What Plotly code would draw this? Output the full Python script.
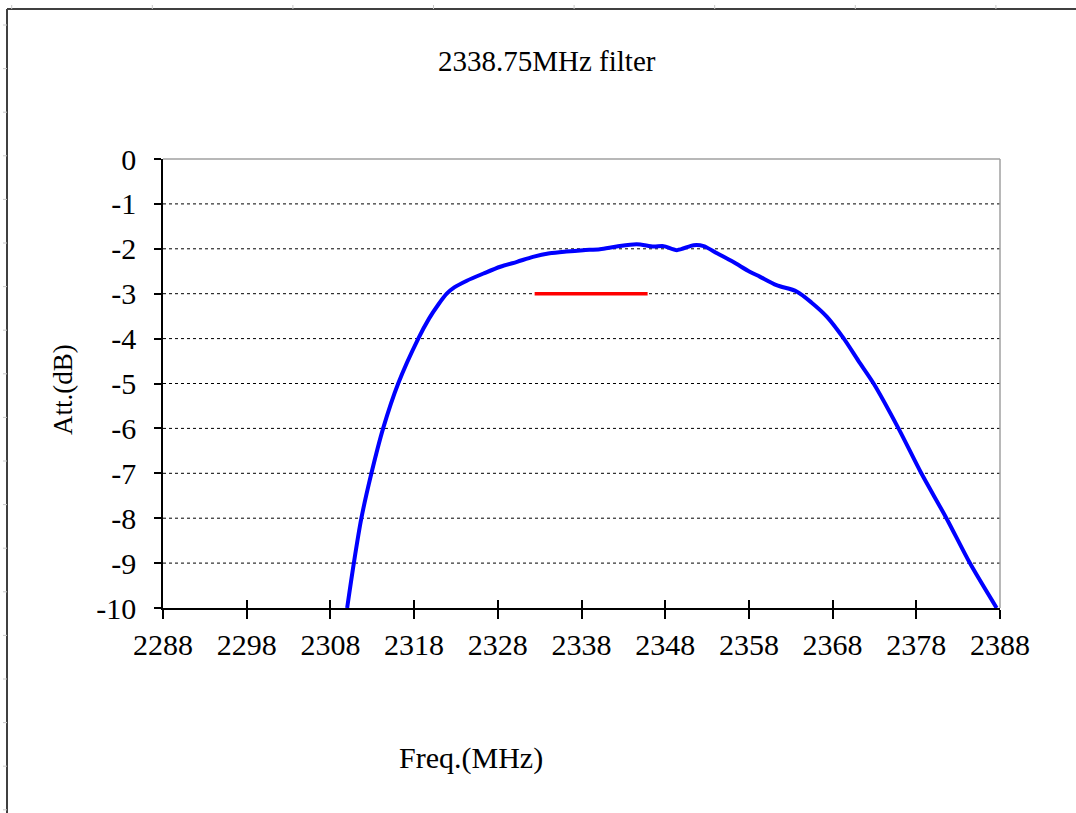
import plotly.graph_objects as go

# ---- data ----
freq = [2310.0, 2310.8, 2311.7, 2312.9, 2314.3, 2316.1, 2318.5, 2319.8, 2320.9,
        2321.9, 2322.8, 2324.3, 2326.3, 2328.3, 2330.3, 2332.2, 2334.2, 2336.2,
        2338.2, 2340.2, 2342.2, 2344.6, 2346.6, 2347.8, 2349.4, 2351.4, 2352.6,
        2354.2, 2356.1, 2358.1, 2359.3, 2361.3, 2363.7, 2365.5, 2367.3, 2369.3,
        2371.1, 2372.9, 2375.9, 2378.6, 2381.6, 2384.4, 2387.6]
att = [-10.0, -9.0, -8.0, -7.0, -6.0, -5.0, -4.0, -3.55, -3.24,
       -3.0, -2.86, -2.71, -2.55, -2.40, -2.29, -2.18, -2.10, -2.06,
       -2.03, -2.01, -1.95, -1.90, -1.95, -1.94, -2.03, -1.92, -1.94,
       -2.10, -2.29, -2.51, -2.62, -2.81, -2.95, -3.2, -3.51, -3.99,
       -4.5, -5.0, -6.01, -7.0, -8.0, -9.0, -10.0]

ref_freq = [2332.4, 2345.9]
ref_att = [-3.0, -3.0]

x_ticks = [2288, 2298, 2308, 2318, 2328, 2338, 2348, 2358, 2368, 2378, 2388]
y_ticks = [0, -1, -2, -3, -4, -5, -6, -7, -8, -9, -10]
grid_vals = [-1, -2, -3, -4, -5, -6, -7, -8, -9]

title_text = "2338.75MHz filter"
x_title = "Freq.(MHz)"
y_title = "Att.(dB)"

FONT = "Liberation Serif"

fig = go.Figure()
fig.add_trace(go.Scatter(x=freq, y=att, mode="lines",
                         line=dict(color="#0000FF", width=4, shape="spline", smoothing=0.8),
                         showlegend=False, hoverinfo="skip"))
fig.add_trace(go.Scatter(x=ref_freq, y=ref_att, mode="lines", xaxis="x2",
                         line=dict(color="#FF0000", width=3.5),
                         showlegend=False, hoverinfo="skip"))

shapes = []
# dotted horizontal grid lines
for g in grid_vals:
    shapes.append(dict(type="line", xref="paper", yref="y", x0=0, x1=1, y0=g, y1=g,
                       line=dict(color="black", width=1, dash="dot"), layer="below"))
# gray top and right plot border
shapes.append(dict(type="line", xref="paper", yref="paper", x0=0, x1=1, y0=1, y1=1,
                   line=dict(color="#A0A0A0", width=1.5)))
shapes.append(dict(type="line", xref="paper", yref="paper", x0=1, x1=1, y0=0, y1=1,
                   line=dict(color="#A0A0A0", width=1.5)))

# outer frame (left and top edges) in pixel-derived paper coords
L, R, T, B = 163, 1000, 159, 608
W, H = R - L, B - T
def px(xp):
    return (xp - L) / W
def py(yp):
    return (B - yp) / H

shapes.append(dict(type="line", xref="paper", yref="paper", x0=px(7), x1=px(7), y0=py(9), y1=py(813),
                   line=dict(color="#404040", width=2)))
shapes.append(dict(type="line", xref="paper", yref="paper", x0=px(7), x1=px(1076), y0=py(9), y1=py(9),
                   line=dict(color="#404040", width=2)))
# faint ruler marks on the frame
for i in range(8):
    xx = 11.7 + 140.6 * i
    shapes.append(dict(type="line", xref="paper", yref="paper", x0=px(xx), x1=px(xx), y0=py(5), y1=py(9),
                       line=dict(color="#C8C8C8", width=1)))
for i in range(19):
    yy = 25 + 43.6 * i
    if yy > 812:
        break
    shapes.append(dict(type="line", xref="paper", yref="paper", x0=px(3), x1=px(7), y0=py(yy), y1=py(yy),
                       line=dict(color="#C8C8C8", width=1)))

annotations = [
    dict(text=title_text, xref="paper", yref="paper", x=px(547), y=py(61), showarrow=False,
         font=dict(family=FONT, size=29, color="black"), xanchor="center", yanchor="middle"),
    dict(text=x_title, xref="paper", yref="paper", x=px(471), y=py(758), showarrow=False,
         font=dict(family=FONT, size=30, color="black"), xanchor="center", yanchor="middle"),
    dict(text=y_title, xref="paper", yref="paper", x=px(63), y=py(390), showarrow=False, textangle=-90,
         font=dict(family=FONT, size=27, color="black"), xanchor="center", yanchor="middle"),
]

fig.update_layout(
    width=1076, height=813,
    margin=dict(l=L, r=1076 - R, t=T, b=813 - B, autoexpand=False),
    paper_bgcolor="white", plot_bgcolor="white",
    showlegend=False,
    shapes=shapes, annotations=annotations,
    xaxis=dict(range=[2288, 2388], tickvals=x_ticks, ticktext=[str(v) for v in x_ticks],
               showgrid=False, zeroline=False, showline=True, linecolor="black", linewidth=1.5,
               ticks="outside", ticklen=9, tickwidth=1.5, tickcolor="black",
               tickfont=dict(family=FONT, size=30, color="black"), fixedrange=True),
    xaxis2=dict(range=[2288, 2388], overlaying="x", anchor="y", side="bottom",
                tickvals=x_ticks, showticklabels=False, showgrid=False, zeroline=False,
                showline=False, ticks="inside", ticklen=8, tickwidth=1.5, tickcolor="black"),
    yaxis=dict(range=[-10, 0], tickvals=y_ticks, ticktext=[str(v) for v in y_ticks],
               showgrid=False, zeroline=False, showline=True, linecolor="black", linewidth=1.5,
               ticks="outside", ticklen=7, tickwidth=1.5, tickcolor="black", ticklabelstandoff=12,
               tickfont=dict(family=FONT, size=30, color="black"), fixedrange=True),
)

fig.write_html("out.html", config={"displayModeBar": False},
               post_script="document.body.style.margin='0';document.body.style.overflow='hidden';")
